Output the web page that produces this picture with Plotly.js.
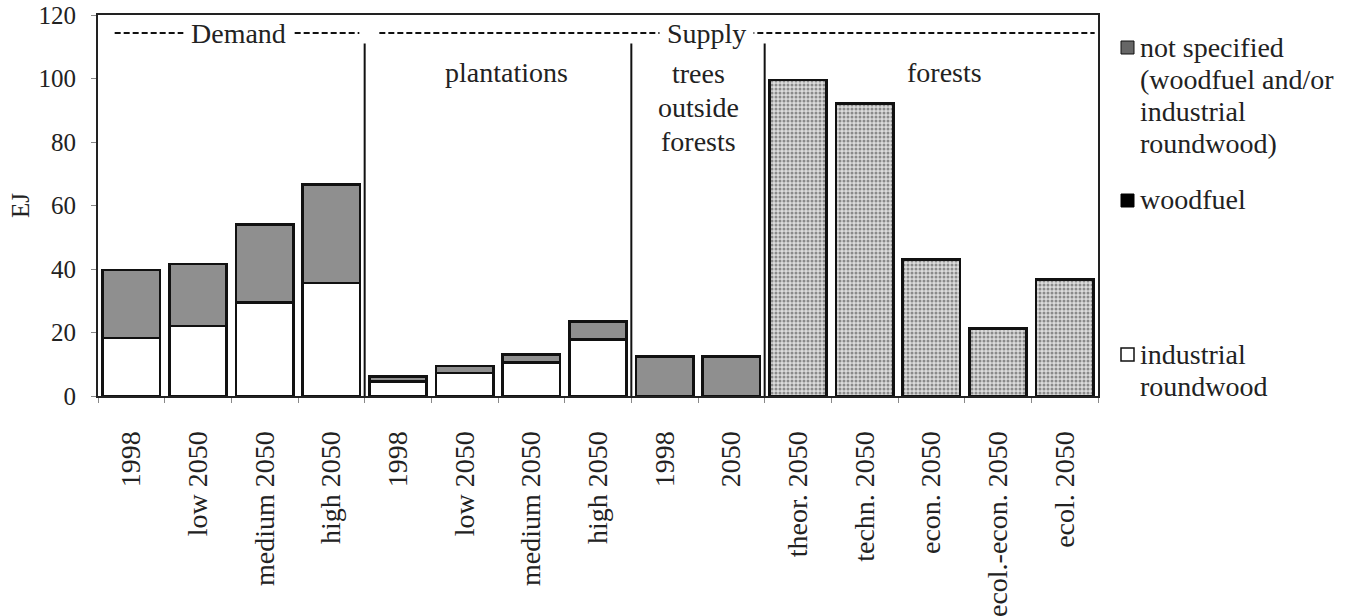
<!DOCTYPE html>
<html>
<head>
<meta charset="utf-8">
<script src="https://cdn.plot.ly/plotly-3.0.1.min.js"></script>
<style>html,body{margin:0;padding:0;background:#fff;}#chart{width:1351px;height:616px;}</style>
</head>
<body>
<div id="chart"></div>
<script>
// Category labels (x axis), positions 0..14
const categories = ["1998", "low 2050", "medium 2050", "high 2050",
                    "1998", "low 2050", "medium 2050", "high 2050",
                    "1998", "2050",
                    "theor. 2050", "techn. 2050", "econ. 2050", "ecol.-econ. 2050", "ecol. 2050"];
// Series values (EJ)
const industrialRoundwood = [18.3, 22.0, 29.5, 35.6, 4.6, 7.3, 10.6, 17.8, 0, 0, 0, 0, 0, 0, 0];
const woodfuel            = [21.4, 19.6, 24.5, 31.0, 1.6, 2.1, 2.5, 5.6, 12.5, 12.5, 0, 0, 0, 0, 0];
const notSpecified        = [0, 0, 0, 0, 0, 0, 0, 0, 0, 0, 99.5, 92.1, 43.0, 21.2, 36.7];
const yTicks = [0, 20, 40, 60, 80, 100, 120];
const legendLabels = {
  notSpecified: ["not specified", "(woodfuel and/or", "industrial", "roundwood)"],
  woodfuel: ["woodfuel"],
  industrial: ["industrial", "roundwood"]
};

const xs = categories.map((c, i) => i);
const FONT = "Liberation Serif";
const f = (s) => ({family: FONT, size: s || 28, color: "#222"});

const outline = () => ({color: "#111", width: 2.5});
const traces = [
  {type: "bar", name: "industrial roundwood", x: xs, y: industrialRoundwood,
   marker: {color: "#ffffff", line: outline()}, width: 0.86, showlegend: false},
  {type: "bar", name: "woodfuel", x: xs, y: woodfuel,
   marker: {color: "#8f8f8f", line: outline()}, width: 0.86, showlegend: false},
  {type: "bar", name: "not specified", x: xs, y: notSpecified,
   marker: {color: "#d4d4d4", line: outline(),
            pattern: {shape: ".", fgcolor: "#8a8a8a", bgcolor: "#dcdcdc", size: 4, solidity: 0.45}},
   width: 0.86, showlegend: false}
];

const px2paperX = px => (px - 98) / 1000;
const px2paperY = py => (396 - py) / 381;

const shapes = [
  {type: "line", xref: "x", yref: "y", x0: 3.5, x1: 3.5, y0: 0, y1: 111, line: {color: "#111", width: 2}},
  {type: "line", xref: "x", yref: "y", x0: 7.5, x1: 7.5, y0: 0, y1: 111, line: {color: "#111", width: 2}},
  {type: "line", xref: "x", yref: "y", x0: 9.5, x1: 9.5, y0: 0, y1: 111, line: {color: "#111", width: 2}},
  {type: "line", xref: "x", yref: "y", x0: -0.25, x1: 3.42, y0: 114.3, y1: 114.3, line: {color: "#111", width: 2, dash: "6px,3px"}},
  {type: "line", xref: "x", yref: "y", x0: 3.72, x1: 14.45, y0: 114.3, y1: 114.3, line: {color: "#111", width: 2, dash: "6px,3px"}},
  {type: "rect", xref: "paper", yref: "paper", x0: px2paperX(1121), x1: px2paperX(1134), y0: px2paperY(54), y1: px2paperY(41),
   line: {color: "#111", width: 1}, fillcolor: "#666"},
  {type: "rect", xref: "paper", yref: "paper", x0: px2paperX(1121), x1: px2paperX(1134), y0: px2paperY(207), y1: px2paperY(194),
   line: {color: "#000", width: 1}, fillcolor: "#000"},
  {type: "rect", xref: "paper", yref: "paper", x0: px2paperX(1121), x1: px2paperX(1134), y0: px2paperY(361), y1: px2paperY(348),
   line: {color: "#111", width: 1.5}, fillcolor: "#fff"}
];

const annotations = [
  {xref: "x", yref: "y", x: 1.6, y: 114.3, text: "&nbsp;Demand&nbsp;", showarrow: false, font: f(), bgcolor: "#fff", borderpad: 0},
  {xref: "x", yref: "y", x: 8.62, y: 114.3, text: "&nbsp;Supply&nbsp;", showarrow: false, font: f(), bgcolor: "#fff", borderpad: 0},
  {xref: "x", yref: "y", x: 5.63, y: 101.9, text: "plantations", showarrow: false, font: f()},
  {xref: "x", yref: "y", x: 12.2, y: 101.9, text: "forests", showarrow: false, font: f()}
];
["trees", "outside", "forests"].forEach((t, i) => {
  annotations.push({xref: "paper", yref: "paper", x: px2paperX(698), y: px2paperY(73 + i * 34),
    yanchor: "middle", text: t, showarrow: false, font: f()});
});
const addLegend = (lines, y0) => lines.forEach((t, i) => {
  annotations.push({xref: "paper", yref: "paper", x: px2paperX(1138), y: px2paperY(y0 + i * 32),
    xanchor: "left", yanchor: "middle", text: t, showarrow: false, font: f()});
});
addLegend(legendLabels.notSpecified, 47);
addLegend(legendLabels.woodfuel, 200);
addLegend(legendLabels.industrial, 354);

const layout = {
  width: 1351, height: 616,
  margin: {l: 98, r: 253, t: 15, b: 220},
  paper_bgcolor: "#fff", plot_bgcolor: "#fff",
  barmode: "stack",
  showlegend: false,
  font: f(),
  xaxis: {
    range: [-0.5, 14.5], tickmode: "array", tickvals: xs, ticktext: categories,
    tickangle: -90, ticks: "", ticklabelstandoff: 22,
    showline: true, linecolor: "#222", linewidth: 2, mirror: true,
    showgrid: false, zeroline: false,
    minor: {tick0: -0.5, dtick: 1, ticks: "outside", ticklen: 5, tickcolor: "#888", showgrid: false},
    tickfont: f()
  },
  yaxis: {
    range: [0, 120], tickmode: "array", tickvals: yTicks,
    ticks: "outside", ticklen: 5, tickcolor: "#888", ticklabelstandoff: 10,
    ticklabeloverflow: "allow",
    showline: true, linecolor: "#222", linewidth: 2, mirror: true,
    showgrid: false, zeroline: false,
    tickfont: f(25),
    title: {text: "EJ", font: f(25), standoff: 2}
  },
  shapes: shapes,
  annotations: annotations
};

Plotly.newPlot("chart", traces, layout, {staticPlot: true});
</script>
</body>
</html>
